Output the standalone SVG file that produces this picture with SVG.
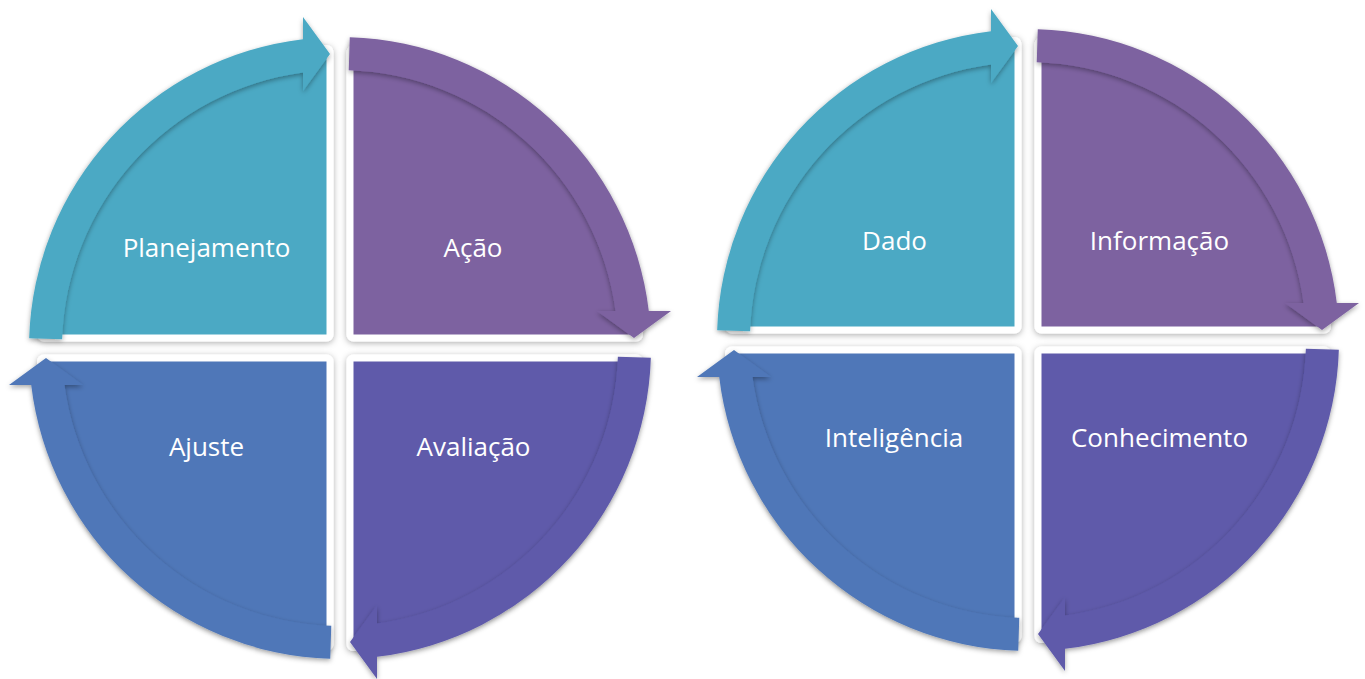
<svg xmlns="http://www.w3.org/2000/svg" xmlns:xlink="http://www.w3.org/1999/xlink" width="1365" height="679" viewBox="0 0 1365 679">
  <style>
    .lbl { font-family: "Open Sans", "Noto Sans", "Liberation Sans", sans-serif; font-size: 26px; fill: #ffffff; text-anchor: middle; }
    .cyan { fill: #4BA9C4; }
    .purple { fill: #7D62A0; }
    .blue { fill: #4F77B8; }
    .indigo { fill: #5E5AAA; }
  </style>
  <defs>
    <filter id="pieShadow" x="-10%" y="-10%" width="120%" height="120%">
      <feDropShadow dx="0" dy="1.5" stdDeviation="3" flood-color="#000" flood-opacity="0.32"/>
    </filter>
    <filter id="arrShadow" x="-10%" y="-10%" width="120%" height="120%">
      <feDropShadow dx="0" dy="2" stdDeviation="2.5" flood-color="#000" flood-opacity="0.35"/>
    </filter>
    <path id="pie" d="M-13.5,-13.5 L-296,-13.5 A282.5,282.5 0 0 1 -13.5,-296 Z" stroke="#ffffff" stroke-width="14" stroke-linejoin="round" paint-order="stroke"/>
    <path id="arr" d="M-310.85,-9.77 A311,311 0 0 1 -37,-308.79 L-37,-331 L-10,-294 L-37,-257 L-37,-275.53 A278,278 0 0 0 -277.86,-8.73 Z"/>
  </defs>
  <rect width="1365" height="679" fill="#ffffff"/>

  <g id="nodes">
    <g id="planejamento">
      <g filter="url(#pieShadow)"><use xlink:href="#pie" class="cyan" transform="translate(340 348)"/></g>
      <text class="lbl" x="206.5" y="257">Planejamento</text>
    </g>
    <g id="acao">
      <g filter="url(#pieShadow)"><use xlink:href="#pie" class="purple" transform="translate(340 348) rotate(90)"/></g>
      <text class="lbl" x="473" y="257">Ação</text>
    </g>
    <g id="avaliacao">
      <g filter="url(#pieShadow)"><use xlink:href="#pie" class="indigo" transform="translate(340 348) rotate(180)"/></g>
      <text class="lbl" x="473.5" y="456">Avaliação</text>
    </g>
    <g id="ajuste">
      <g filter="url(#pieShadow)"><use xlink:href="#pie" class="blue" transform="translate(340 348) rotate(270)"/></g>
      <text class="lbl" x="206.5" y="456">Ajuste</text>
    </g>

    <g id="dado">
      <g filter="url(#pieShadow)"><use xlink:href="#pie" class="cyan" transform="translate(1028 340)"/></g>
      <text class="lbl" x="894.5" y="250">Dado</text>
    </g>
    <g id="informacao">
      <g filter="url(#pieShadow)"><use xlink:href="#pie" class="purple" transform="translate(1028 340) rotate(90)"/></g>
      <text class="lbl" x="1159.5" y="250">Informação</text>
    </g>
    <g id="conhecimento">
      <g filter="url(#pieShadow)"><use xlink:href="#pie" class="indigo" transform="translate(1028 340) rotate(180)"/></g>
      <text class="lbl" x="1159.5" y="447">Conhecimento</text>
    </g>
    <g id="inteligencia">
      <g filter="url(#pieShadow)"><use xlink:href="#pie" class="blue" transform="translate(1028 340) rotate(270)"/></g>
      <text class="lbl" x="894" y="447">Inteligência</text>
    </g>
  </g>

  <g id="connectors">
    <g filter="url(#arrShadow)"><use xlink:href="#arr" class="cyan" transform="translate(340 348)"/></g>
    <g filter="url(#arrShadow)"><use xlink:href="#arr" class="purple" transform="translate(340 348) rotate(90)"/></g>
    <g filter="url(#arrShadow)"><use xlink:href="#arr" class="indigo" transform="translate(340 348) rotate(180)"/></g>
    <g filter="url(#arrShadow)"><use xlink:href="#arr" class="blue" transform="translate(340 348) rotate(270)"/></g>

    <g filter="url(#arrShadow)"><use xlink:href="#arr" class="cyan" transform="translate(1028 340)"/></g>
    <g filter="url(#arrShadow)"><use xlink:href="#arr" class="purple" transform="translate(1028 340) rotate(90)"/></g>
    <g filter="url(#arrShadow)"><use xlink:href="#arr" class="indigo" transform="translate(1028 340) rotate(180)"/></g>
    <g filter="url(#arrShadow)"><use xlink:href="#arr" class="blue" transform="translate(1028 340) rotate(270)"/></g>
  </g>
</svg>
